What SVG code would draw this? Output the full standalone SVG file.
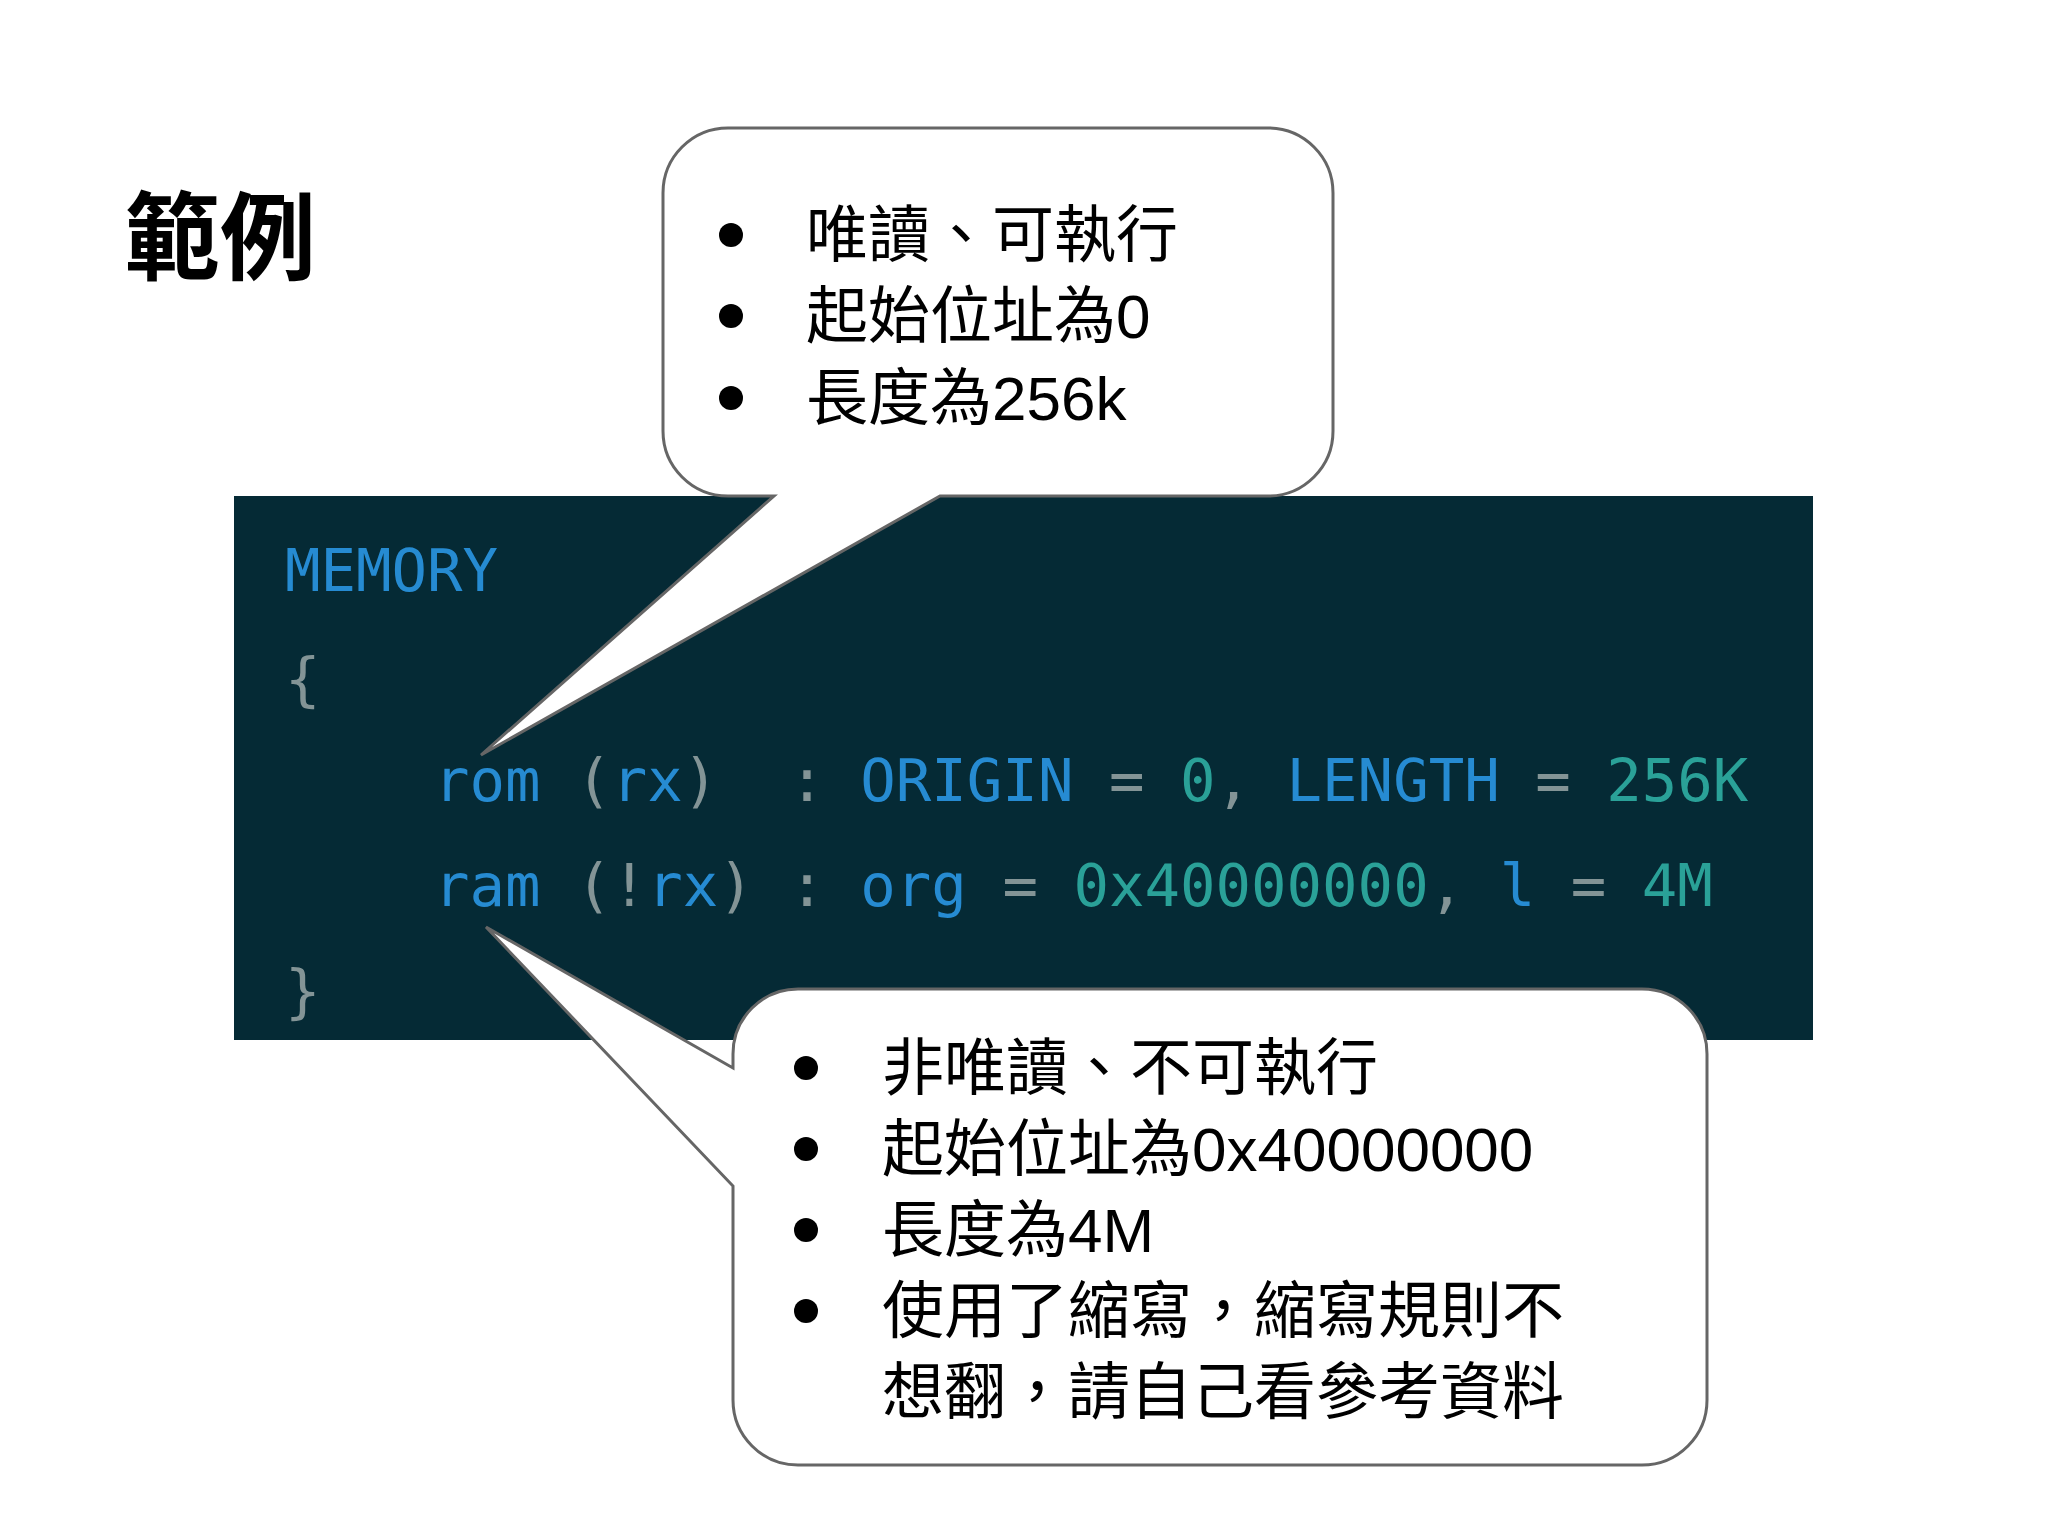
<svg xmlns="http://www.w3.org/2000/svg" width="2048" height="1536" viewBox="0 0 2048 1536">
<style>
.t{font-family:"Liberation Sans","Noto Sans CJK TC",sans-serif;font-size:62px;fill:#000}
.c{font-family:"DejaVu Sans Mono",monospace;font-size:59px;fill:#839496}
.k{fill:#268bd2}.n{fill:#2aa198}
.b{fill:#fff;stroke:#666;stroke-width:3}
</style>
<rect width="2048" height="1536" fill="#fff"/>
<text x="124" y="272" style="font-family:'Noto Sans CJK TC',sans-serif;font-size:96px;font-weight:bold">範例</text>
<g id="code">
<rect x="234" y="496" width="1579" height="544" fill="#052a35"/>
<text class="c" y="591" x="285"><tspan class="k">MEMORY</tspan></text>
<text class="c" y="700" x="285">{</text>
<text class="c" y="801" x="434" xml:space="preserve"><tspan class="k">rom</tspan> (<tspan class="k">rx</tspan>)  : <tspan class="k">ORIGIN</tspan> = <tspan class="n">0</tspan>, <tspan class="k">LENGTH</tspan> = <tspan class="n">256K</tspan></text>
<text class="c" y="906" x="434" xml:space="preserve"><tspan class="k">ram</tspan> (!<tspan class="k">rx</tspan>) : <tspan class="k">org</tspan> = <tspan class="n">0x40000000</tspan>, <tspan class="k">l</tspan> = <tspan class="n">4M</tspan></text>
<text class="c" y="1012" x="285">}</text>
</g>
<g id="callout-top">
<path class="b" d="M728,128 H1268 A65,65 0 0 1 1333,193 V431 A65,65 0 0 1 1268,496 H940 L481,755 L774,496 H728 A65,65 0 0 1 663,431 V193 A65,65 0 0 1 728,128 Z"/>
<g class="t">
<circle cx="731" cy="235" r="12"/><text x="806" y="257">唯讀、可執行</text>
<circle cx="731" cy="316" r="12"/><text x="806" y="338">起始位址為0</text>
<circle cx="731" cy="398" r="12"/><text x="806" y="420">長度為256k</text>
</g>
</g>
<g id="callout-bottom">
<path class="b" d="M798,989 H1642 A65,65 0 0 1 1707,1054 V1400 A65,65 0 0 1 1642,1465 H798 A65,65 0 0 1 733,1400 V1186 L486,927 L733,1068 V1054 A65,65 0 0 1 798,989 Z"/>
<g class="t">
<circle cx="806" cy="1068" r="12"/><text x="882" y="1090">非唯讀、不可執行</text>
<circle cx="806" cy="1149" r="12"/><text x="882" y="1171">起始位址為0x40000000</text>
<circle cx="806" cy="1230" r="12"/><text x="882" y="1252">長度為4M</text>
<circle cx="806" cy="1311" r="12"/><text x="882" y="1333">使用了縮寫，縮寫規則不</text>
<text x="882" y="1414">想翻，請自己看參考資料</text>
</g>
</g>
</svg>
